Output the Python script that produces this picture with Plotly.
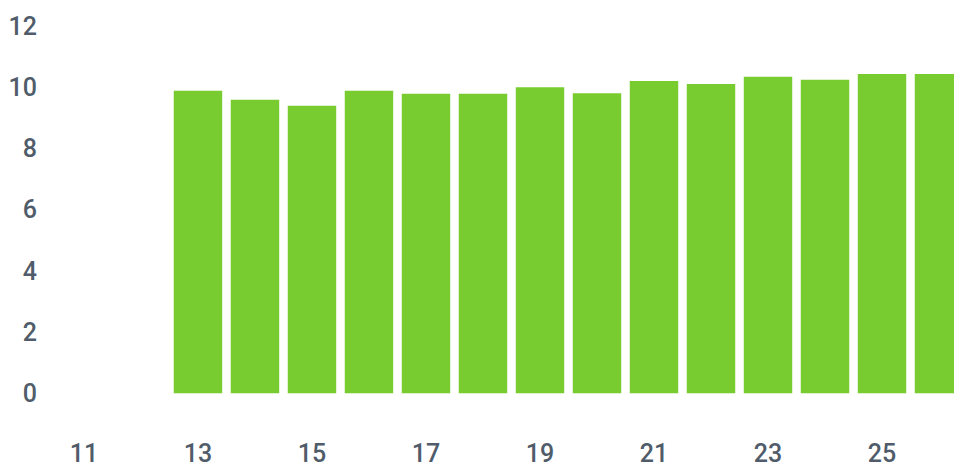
import plotly.graph_objects as go

days = [13, 14, 15, 16, 17, 18, 19, 20, 21, 22, 23, 24, 25, 26]
values = [9.88, 9.59, 9.39, 9.88, 9.78, 9.78, 10.0, 9.8, 10.2, 10.1, 10.34, 10.24, 10.43, 10.43]
x_ticks = [11, 13, 15, 17, 19, 21, 23, 25]
y_ticks = [0, 2, 4, 6, 8, 10, 12]

fig = go.Figure(go.Bar(
    x=days, y=values, width=0.85,
    marker=dict(color="#78cc30", line=dict(width=0)),
))

font = dict(family="Roboto", size=25, color="#505c6a", weight=500)
fig.update_layout(
    width=954, height=468,
    margin=dict(l=50, r=0, t=12, b=30),
    plot_bgcolor="white", paper_bgcolor="white",
    showlegend=False,
    xaxis=dict(range=[10.404, 26.263], tickvals=x_ticks, ticktext=[str(t) for t in x_ticks],
               showgrid=False, zeroline=False, showline=False, tickfont=font,
               ticks="", ticklabelstandoff=0),
    yaxis=dict(range=[-1.40, 12.455], tickvals=y_ticks, ticktext=[str(t) for t in y_ticks],
               showgrid=False, zeroline=False, showline=False, tickfont=font,
               ticks="", ticklabelstandoff=12),
)
fig.write_html("out.html", config={"displayModeBar": False},
               post_script="document.body.style.margin='0';")
